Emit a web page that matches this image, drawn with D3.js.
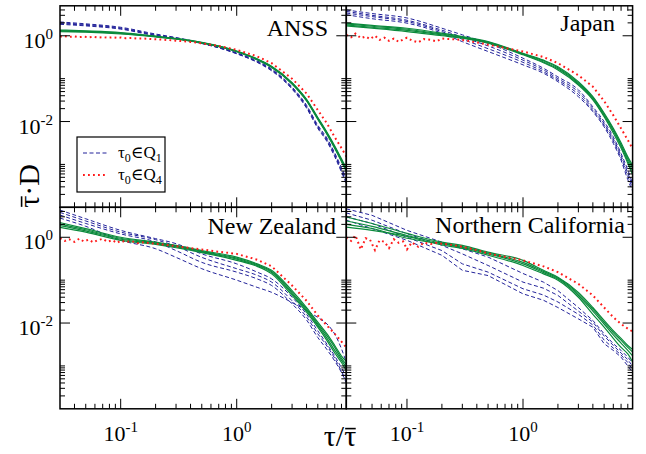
<!DOCTYPE html>
<html>
<head>
<meta charset="utf-8">
<script src="https://cdn.jsdelivr.net/npm/d3@7"></script>
<style>
  body { margin: 0; background: #fff; }
  svg text { font-family: "Liberation Serif", "DejaVu Serif", serif; fill: #000; }
</style>
</head>
<body>
<div id="chart"></div>
<script>
// x grids (tau / mean tau)
const tGrid = [0.03, 0.05, 0.1, 0.2, 0.3, 0.5, 1, 1.5, 2, 3, 4, 5, 6, 7, 8, 9];
const tRed = [0.03, 0.033, 0.036, 0.04, 0.044, 0.048, 0.053, 0.058, 0.064, 0.07,
              0.077, 0.085, 0.093, 0.1, 0.11, 0.125, 0.14, 0.16, 0.18, 0.2,
              0.25, 0.3, 0.4, 0.5, 0.7, 1, 1.5, 2, 3, 4, 5, 6, 7, 8, 9];

const panelNames = ["ANSS", "Japan", "New Zealand", "Northern California"];

// ANSS
const anssBlue = [
  [2.1, 1.9, 1.58, 1.1, 0.91, 0.68, 0.4, 0.26, 0.168, 0.064, 0.024, 0.0082, 0.0041, 0.00185, 0.00084, 0.00041],
  [2.0, 1.83, 1.52, 1.06, 0.89, 0.67, 0.39, 0.25, 0.162, 0.061, 0.0225, 0.0077, 0.0038, 0.0017, 0.00077, 0.00037],
  [1.92, 1.76, 1.47, 1.03, 0.87, 0.665, 0.385, 0.245, 0.157, 0.059, 0.0215, 0.0073, 0.0036, 0.0016, 0.00071, 0.00034],
  [1.85, 1.7, 1.43, 1.0, 0.85, 0.66, 0.38, 0.24, 0.152, 0.057, 0.0205, 0.0069, 0.0034, 0.0015, 0.00066, 0.00031]
];
const anssGreen = [
  [1.36, 1.3, 1.19, 0.98, 0.86, 0.7, 0.44, 0.29, 0.195, 0.081, 0.033, 0.0124, 0.0056, 0.0027, 0.00135, 0.00071],
  [1.32, 1.27, 1.16, 0.97, 0.855, 0.69, 0.435, 0.285, 0.19, 0.079, 0.032, 0.012, 0.0054, 0.00255, 0.00128, 0.00067],
  [1.28, 1.24, 1.13, 0.955, 0.85, 0.685, 0.43, 0.28, 0.186, 0.077, 0.031, 0.0116, 0.0052, 0.00245, 0.00122, 0.00064],
  [1.24, 1.21, 1.1, 0.94, 0.84, 0.68, 0.425, 0.277, 0.182, 0.075, 0.0302, 0.0112, 0.005, 0.00235, 0.00116, 0.00061]
];
const anssRed = [0.96, 0.98, 0.94, 0.97, 0.93, 0.95, 0.92, 0.95, 0.91, 0.93,
                 0.9, 0.92, 0.89, 0.91, 0.88, 0.89, 0.86, 0.86, 0.84, 0.83,
                 0.8, 0.77, 0.72, 0.67, 0.58, 0.47, 0.33, 0.23, 0.1, 0.045,
                 0.0185, 0.009, 0.0043, 0.0024, 0.0014];

// Japan
const japanBlue = [
  [4.0, 3.3, 2.6, 1.5, 1.05, 0.67, 0.3, 0.175, 0.11, 0.055, 0.022, 0.01, 0.0044, 0.0018, 0.00074, 0.0003],
  [3.7, 3.0, 2.3, 1.35, 0.93, 0.58, 0.27, 0.16, 0.1, 0.049, 0.02, 0.009, 0.0039, 0.0016, 0.00063, 0.00027],
  [3.4, 2.8, 2.15, 1.25, 0.83, 0.5, 0.24, 0.145, 0.092, 0.043, 0.018, 0.0082, 0.0035, 0.0014, 0.00053, 0.00024],
  [3.1, 2.5, 1.97, 1.15, 0.73, 0.43, 0.21, 0.134, 0.085, 0.038, 0.017, 0.0075, 0.0031, 0.00125, 0.00044, 0.00021]
];
const japanGreen = [
  [1.97, 1.75, 1.5, 1.15, 0.96, 0.73, 0.39, 0.27, 0.19, 0.085, 0.038, 0.0158, 0.007, 0.0032, 0.0015, 0.00087],
  [1.88, 1.67, 1.42, 1.1, 0.93, 0.71, 0.38, 0.26, 0.18, 0.08, 0.036, 0.0148, 0.0065, 0.0029, 0.00135, 0.00075],
  [1.79, 1.58, 1.33, 1.05, 0.9, 0.69, 0.37, 0.245, 0.17, 0.075, 0.034, 0.0138, 0.006, 0.0027, 0.0012, 0.00062],
  [1.7, 1.5, 1.25, 1.0, 0.88, 0.67, 0.36, 0.235, 0.16, 0.071, 0.032, 0.0129, 0.0054, 0.0024, 0.00107, 0.0005]
];
const japanRed = [1.05, 0.92, 1.12, 0.88, 0.96, 0.84, 1.0, 0.8, 0.9, 0.76,
                  0.86, 0.72, 0.82, 0.9, 0.78, 0.7, 0.84, 0.8, 0.74, 0.86,
                  0.83, 0.8, 0.7, 0.62, 0.52, 0.43, 0.32, 0.23, 0.12, 0.065,
                  0.03, 0.014, 0.0069, 0.0037, 0.0021];

// New Zealand
const nzBlue = [
  [4.3, 2.7, 1.45, 0.93, 0.71, 0.41, 0.24, 0.154, 0.107, 0.04, 0.016, 0.0066, 0.0032, 0.0017, 0.0009, 0.0005],
  [3.8, 2.4, 1.32, 0.88, 0.62, 0.34, 0.185, 0.13, 0.09, 0.033, 0.0138, 0.0056, 0.0029, 0.0015, 0.00075, 0.0004],
  [3.3, 2.1, 1.2, 0.78, 0.49, 0.26, 0.154, 0.107, 0.075, 0.028, 0.0118, 0.0046, 0.0024, 0.0013, 0.0007, 0.00035],
  [2.8, 1.8, 0.85, 0.54, 0.34, 0.185, 0.1, 0.068, 0.052, 0.03, 0.0195, 0.0135, 0.0095, 0.0055, 0.0025, 0.001]
];
const nzGreen = [
  [2.2, 1.59, 1.0, 0.77, 0.65, 0.49, 0.345, 0.24, 0.17, 0.057, 0.023, 0.0105, 0.0056, 0.003, 0.0017, 0.0012],
  [2.03, 1.5, 0.95, 0.74, 0.62, 0.47, 0.325, 0.23, 0.16, 0.052, 0.021, 0.0096, 0.005, 0.0027, 0.0015, 0.001],
  [1.87, 1.41, 0.9, 0.71, 0.595, 0.455, 0.31, 0.22, 0.15, 0.048, 0.0195, 0.0088, 0.0044, 0.0023, 0.00135, 0.00085],
  [1.7, 1.32, 0.85, 0.68, 0.57, 0.44, 0.29, 0.21, 0.14, 0.044, 0.018, 0.008, 0.0039, 0.002, 0.0012, 0.0007]
];
const nzRed = [0.95, 0.82, 0.9, 0.78, 0.93, 0.8, 0.88, 0.76, 0.86, 0.92,
               0.79, 0.85, 0.74, 0.83, 0.78, 0.81, 0.73, 0.77, 0.72, 0.71,
               0.66, 0.62, 0.56, 0.52, 0.46, 0.41, 0.3, 0.21, 0.075, 0.033,
               0.015, 0.0087, 0.0056, 0.0037, 0.0025];

// Northern California
const ncBlue = [
  [4.6, 3.25, 1.45, 0.77, 0.54, 0.345, 0.143, 0.09, 0.057, 0.023, 0.0115, 0.0056, 0.0033, 0.0023, 0.0016, 0.0011],
  [3.7, 2.5, 1.21, 0.65, 0.41, 0.22, 0.09, 0.065, 0.044, 0.019, 0.0105, 0.005, 0.003, 0.002, 0.0014, 0.0009],
  [3.0, 2.1, 1.0, 0.49, 0.24, 0.154, 0.063, 0.045, 0.031, 0.016, 0.009, 0.004, 0.0026, 0.0018, 0.0012, 0.00075],
  [2.5, 1.6, 0.85, 0.38, 0.17, 0.128, 0.048, 0.034, 0.023, 0.0125, 0.008, 0.0033, 0.0023, 0.0016, 0.001, 0.00065]
];
const ncGreen = [
  [2.97, 2.1, 1.23, 0.77, 0.65, 0.45, 0.29, 0.17, 0.117, 0.052, 0.023, 0.0115, 0.0066, 0.0044, 0.003, 0.0023],
  [2.4, 1.8, 1.1, 0.73, 0.61, 0.43, 0.26, 0.16, 0.112, 0.048, 0.021, 0.0105, 0.006, 0.004, 0.0027, 0.002],
  [2.0, 1.6, 0.95, 0.7, 0.58, 0.41, 0.24, 0.15, 0.106, 0.044, 0.019, 0.0095, 0.0053, 0.0034, 0.0023, 0.0016],
  [1.73, 1.45, 1.05, 0.66, 0.55, 0.38, 0.22, 0.14, 0.1, 0.04, 0.016, 0.008, 0.0044, 0.0027, 0.0019, 0.0011]
];
const ncRed = [1.0, 0.82, 1.1, 0.52, 0.95, 0.88, 0.5, 0.85, 0.78, 0.56,
               0.9, 0.74, 0.8, 0.52, 0.76, 0.6, 0.75, 0.7, 0.74, 0.71,
               0.66, 0.6, 0.5, 0.42, 0.35, 0.29, 0.21, 0.154, 0.082, 0.044,
               0.023, 0.0137, 0.0095, 0.0074, 0.0061];

const blueSets = [anssBlue, japanBlue, nzBlue, ncBlue];
const greenSets = [anssGreen, japanGreen, nzGreen, ncGreen];
const redSets = [anssRed, japanRed, nzRed, ncRed];

// layout
const W = 646, H = 454;
const marginL = 60, marginT = 5.8, pw = 286.3, ph = 201.5;
const labelPos = [[328, 36], [615, 30.5], [336, 233.5], [625, 233]];
const col = { blue: "#23239a", green: "#0b8a3c", red: "#ff1a1a" };

const svg = d3.select("#chart").append("svg")
    .attr("width", W).attr("height", H)
    .attr("font-family", "Liberation Serif, DejaVu Serif, serif");

const x = d3.scaleLog().domain([0.03, 8.8]).range([0, pw]);
const y = d3.scaleLog().domain([1e-4, 5]).range([ph, 0]);

// tick positions
const xMajor = [0.1, 1];
const xMinor = [];
[-2, -1, 0].forEach(e => d3.range(2, 10).forEach(k => {
    const v = k * Math.pow(10, e);
    if (v > 0.031 && v < 8.7) xMinor.push(v);
}));
const yMajor = [1e-2, 1];
const yMinor = [];
[-4, -2, 0].forEach(e => d3.range(2, 11).forEach(k => {
    const v = k * Math.pow(10, e);
    if (v < 4.9) yMinor.push(v);
}));

const line = d3.line().x(d => x(d[0])).y(d => y(d[1]));

panelNames.forEach((name, i) => {
    const c = i % 2, r = Math.floor(i / 2);
    const g = svg.append("g")
        .attr("transform", `translate(${marginL + c * pw},${marginT + r * ph})`);

    g.append("clipPath").attr("id", "clip" + i)
        .append("rect").attr("width", pw).attr("height", ph);
    const plot = g.append("g").attr("clip-path", `url(#clip${i})`);

    // blue dashed
    blueSets[i].forEach(vals => {
        plot.append("path")
            .datum(tGrid.map((t, j) => [t, vals[j]]))
            .attr("d", line.curve(i === 3 ? d3.curveLinear : d3.curveMonotoneX))
            .attr("fill", "none").attr("stroke", col.blue)
            .attr("stroke-width", 1).attr("stroke-dasharray", "4,2.5");
    });
    // green solid
    greenSets[i].forEach(vals => {
        plot.append("path")
            .datum(tGrid.map((t, j) => [t, vals[j]]))
            .attr("d", line.curve(d3.curveMonotoneX))
            .attr("fill", "none").attr("stroke", col.green)
            .attr("stroke-width", 1.2);
    });
    // red dotted
    plot.append("path")
        .datum(tRed.map((t, j) => [t, redSets[i][j]]))
        .attr("d", line.curve(d3.curveLinear))
        .attr("fill", "none").attr("stroke", col.red)
        .attr("stroke-width", 2).attr("stroke-dasharray", "1.8,3.2");

    // ticks on all four sides, pointing inward
    const tk = g.append("g").attr("stroke", "#000").attr("stroke-width", 1);
    const xt = xMajor.map(v => [v, 10]).concat(xMinor.map(v => [v, 5]));
    xt.forEach(([v, L]) => {
        const px = x(v);
        tk.append("line").attr("x1", px).attr("x2", px).attr("y1", ph).attr("y2", ph - L);
        tk.append("line").attr("x1", px).attr("x2", px).attr("y1", 0).attr("y2", L);
    });
    const yt = yMajor.map(v => [v, 10]).concat(yMinor.map(v => [v, 5]));
    yt.forEach(([v, L]) => {
        const py = y(v);
        tk.append("line").attr("x1", 0).attr("x2", L).attr("y1", py).attr("y2", py);
        tk.append("line").attr("x1", pw).attr("x2", pw - L).attr("y1", py).attr("y2", py);
    });

    g.append("rect").attr("width", pw).attr("height", ph)
        .attr("fill", "none").attr("stroke", "#000").attr("stroke-width", 1.5);

    // tick labels
    if (c === 0) {
        [[1, "0"], [1e-2, "-2"]].forEach(([v, ex]) => {
            const t = g.append("text").attr("x", -7).attr("y", y(v) + 12)
                .attr("text-anchor", "end").style("font-size", "22px");
            t.append("tspan").text("10");
            t.append("tspan").attr("dy", -9).style("font-size", "15px").text(ex);
        });
    }
    if (r === 1) {
        [[0.1, "-1"], [1, "0"]].forEach(([v, ex]) => {
            const t = g.append("text").attr("x", x(v)).attr("y", ph + 32.5)
                .attr("text-anchor", "middle").style("font-size", "22px");
            t.append("tspan").text("10");
            t.append("tspan").attr("dy", -9).style("font-size", "15px").text(ex);
        });
    }

    // panel name
    svg.append("text")
        .attr("x", labelPos[i][0]).attr("y", labelPos[i][1])
        .attr("text-anchor", "end").style("font-size", "24px")
        .text(name);
});

// bar over one character of a text element
function overbar(parent, text, idx, fs) {
    const node = text.node();
    const a = node.getStartPositionOfChar(idx), b = node.getEndPositionOfChar(idx);
    parent.append("line")
        .attr("x1", a.x + 1).attr("x2", b.x - 0.5)
        .attr("y1", a.y - 0.58 * fs).attr("y2", a.y - 0.58 * fs)
        .attr("stroke", "#000").attr("stroke-width", 1.6);
}

// axis titles
const xt = svg.append("g").attr("transform", "translate(340,446)");
const xTitle = xt.append("text").attr("text-anchor", "middle")
    .style("font-size", "30px").text("\u03C4/\u03C4");
overbar(xt, xTitle, 2, 30);

const yt = svg.append("g").attr("transform", "translate(39,186) rotate(-90)");
const yTitle = yt.append("text").attr("text-anchor", "middle")
    .style("font-size", "30px").text("\u03C4\u00B7D");
overbar(yt, yTitle, 0, 30);

// legend
const lg = svg.append("g");
lg.append("rect").attr("x", 77).attr("y", 137).attr("width", 88).attr("height", 55)
    .attr("fill", "#fff").attr("stroke", "#000").attr("stroke-width", 1.2);
const legendItems = [
    { color: col.blue, dash: "4,2.5", w: 1, sub: "1" },
    { color: col.red, dash: "1.8,3.2", w: 2, sub: "4" }
];
legendItems.forEach((d, k) => {
    const ly = 153 + k * 22;
    lg.append("line").attr("x1", 83).attr("x2", 108).attr("y1", ly).attr("y2", ly)
        .attr("stroke", d.color).attr("stroke-width", d.w).attr("stroke-dasharray", d.dash);
    const t = lg.append("text").attr("x", 118).attr("y", ly + 5).style("font-size", "17px");
    t.append("tspan").text("\u03C4");
    t.append("tspan").attr("dy", 4).style("font-size", "12px").text("0");
    t.append("tspan").attr("dy", -4).text("\u2208Q");
    t.append("tspan").attr("dy", 4).style("font-size", "12px").text(d.sub);
});
</script>
</body>
</html>
